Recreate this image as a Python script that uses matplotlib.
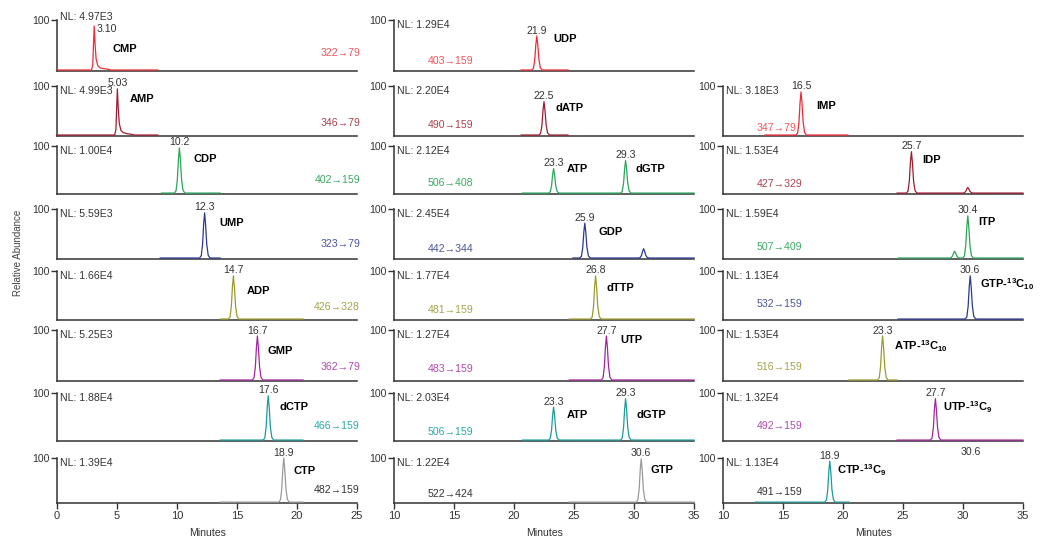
import matplotlib.pyplot as plt

plt.rcParams['font.family'] = ['Liberation Sans', 'DejaVu Sans']
plt.rcParams['mathtext.fontset'] = 'custom'
plt.rcParams['mathtext.rm'] = 'Liberation Sans'
plt.rcParams['mathtext.bf'] = 'Liberation Sans:bold'

# grid position of each chromatogram (column, row)
col = [0] * 8 + [1] * 8 + [2] * 7
row = list(range(8)) + list(range(8)) + list(range(1, 8))

nl = ['4.97E3', '4.99E3', '1.00E4', '5.59E3', '1.66E4', '5.25E3', '1.88E4', '1.39E4',
      '1.29E4', '2.20E4', '2.12E4', '2.45E4', '1.77E4', '1.27E4', '2.03E4', '1.22E4',
      '3.18E3', '1.53E4', '1.59E4', '1.13E4', '1.53E4', '1.32E4', '1.13E4']
transition = ['322→79', '346→79', '402→159', '323→79', '426→328', '362→79', '466→159', '482→159',
              '403→159', '490→159', '506→408', '442→344', '481→159', '483→159', '506→159', '522→424',
              '347→79', '427→329', '507→409', '532→159', '516→159', '492→159', '491→159']
transition_y = [33, 24, 27, 28, 26, 26, 29, 27,
                18, 20, 21, 19, 18, 22, 18, 18,
                14, 20, 22, 31, 26, 29, 22]

red, dred, green, blue = '#ee2a36', '#9e1b32', '#2aa55a', '#2b3990'
olive, purple, teal, gray = '#9c9a2d', '#a2269b', '#1d9a9a', '#9a9a9a'
trace_color = [red, dred, green, blue, olive, purple, teal, gray,
               red, dred, green, blue, olive, purple, teal, gray,
               red, dred, green, blue, olive, purple, teal]
text_color = ['#f0545c', '#a8424f', '#3aaa60', '#4a55a0', '#a6a44a', '#b04aac', '#2aa8a8', '#333333',
              '#f0545c', '#a8424f', '#3aaa60', '#4a55a0', '#a6a44a', '#b04aac', '#2aa8a8', '#333333',
              '#f0545c', '#a8424f', '#3aaa60', '#4a55a0', '#a6a44a', '#b04aac', '#333333']

# acquisition window of each transition (minutes)
win_start = [0, 0, 8.7, 8.6, 13.6, 13.6, 13.6, 13.6,
             20.6, 20.6, 20.7, 24.9, 24.6, 24.6, 20.7, 24.6,
             13.5, 24.5, 24.6, 24.6, 20.5, 24.5, 12.7]
win_end = [8.4, 8.4, 13.6, 13.6, 20.5, 20.5, 20.5, 20.5,
           24.5, 24.5, 35, 35, 35, 35, 35, 35,
           20.4, 35, 35, 35, 24.5, 35, 20.5]

# peaks: retention time (min), relative height (%), label
peak_rt = [[3.10], [5.03], [10.2], [12.3], [14.7], [16.7], [17.6], [18.9],
           [21.9], [22.5], [23.3, 29.3], [25.9, 30.8], [26.8], [27.7], [23.3, 29.3], [30.6],
           [16.5], [25.7, 30.4], [29.3, 30.4], [30.6], [23.3], [27.7], [18.9]]
peak_h = [[88], [94], [96], [92], [90], [88], [94], [100],
          [68], [68], [52, 69], [71, 19], [90], [88], [70, 88], [98],
          [88], [88, 12], [14, 86], [90], [88], [88], [93]]
peak_label = [['3.10'], ['5.03'], ['10.2'], ['12.3'], ['14.7'], ['16.7'], ['17.6'], ['18.9'],
              ['21.9'], ['22.5'], ['23.3', '29.3'], ['25.9', ''], ['26.8'], ['27.7'], ['23.3', '29.3'], ['30.6'],
              ['16.5'], ['25.7', ''], ['', '30.4'], ['30.6'], ['23.3'], ['27.7'], ['18.9']]

# compound names and where they sit (minutes, % of scale)
names = [['CMP'], ['AMP'], ['CDP'], ['UMP'], ['ADP'], ['GMP'], ['dCTP'], ['CTP'],
         ['UDP'], ['dATP'], ['ATP', 'dGTP'], ['GDP'], ['dTTP'], ['UTP'], ['ATP', 'dGTP'], ['GTP'],
         ['IMP'], ['IDP'], ['ITP'], [r'GTP-$^{\mathbf{13}}\mathbf{C}_{\mathbf{10}}$'],
         [r'ATP-$^{\mathbf{13}}\mathbf{C}_{\mathbf{10}}$'], [r'UTP-$^{\mathbf{13}}\mathbf{C}_{\mathbf{9}}$'],
         [r'CTP-$^{\mathbf{13}}\mathbf{C}_{\mathbf{9}}$']]
name_x = [[4.6], [6.1], [11.4], [13.5], [15.8], [17.5], [18.5], [19.7],
          [23.25], [23.5], [24.4, 30.1], [27.0], [27.7], [28.9], [24.4, 30.2], [31.4],
          [17.75], [26.6], [31.3], [31.4], [24.25], [28.3], [19.5]]
name_y = [[43], [74], [73], [72], [58], [59], [71], [71],
          [62], [56], [52, 52], [54], [65], [80], [54, 54], [73],
          [59], [70], [74], [73], [68], [69], [73]]

# peak shapes: offset from apex (min) and fraction of apex height
peak_dt = [-0.42, -0.28, -0.17, -0.08, 0, 0.08, 0.18, 0.3, 0.46]
peak_rel = [0, 0.05, 0.3, 0.75, 1.0, 0.75, 0.3, 0.06, 0]
tail_dt = [-0.22, -0.12, -0.05, 0, 0.07, 0.16, 0.3, 0.5, 0.8, 1.1, 1.4]
tail_rel = [0, 0.12, 0.65, 1.0, 0.6, 0.25, 0.1, 0.05, 0.03, 0.02, 0]

W, H = 1043, 540
lefts = [57, 394, 723]
tops = [20, 86, 146, 209, 271, 330, 393, 458]
bases = [71, 136, 194, 259, 320, 381, 441, 503]
xlims = [(0, 25), (10, 35), (10, 35)]
axis_color = '#333333'
fs = 7.6

fig = plt.figure(figsize=(W / 100, H / 100), dpi=100)

for i in range(len(col)):
    c, r = col[i], row[i]
    ax = fig.add_axes([lefts[c] / W, 1 - bases[r] / H, 300 / W, (bases[r] - tops[r]) / H])
    ax.set_xlim(*xlims[c])
    ax.set_ylim(-2, 100)

    t = [win_start[i]]
    y = [0]
    dt, rel = (tail_dt, tail_rel) if i in (0, 1) else (peak_dt, peak_rel)
    for rt, h in zip(peak_rt[i], peak_h[i]):
        t += [rt + d for d in dt]
        y += [h * f for f in rel]
    t.append(win_end[i])
    y.append(0)
    ax.plot(t, y, color=trace_color[i], lw=0.9, clip_on=False, zorder=3)

    for rt, h, lab in zip(peak_rt[i], peak_h[i], peak_label[i]):
        if not lab:
            continue
        if i == 0:
            ax.text(rt + 0.2, h + 5, lab, ha='left', va='top', fontsize=fs, color=axis_color)
        else:
            ax.text(rt, h + 1, lab, ha='center', va='bottom', fontsize=fs, color=axis_color)

    for nm, nx, ny in zip(names[i], name_x[i], name_y[i]):
        ax.text(nx, ny, nm, ha='left', va='center', fontsize=8, fontweight='bold', color='black')

    nl_y = 115 if i == 0 else 100
    ax.text(0.01, nl_y, 'NL: ' + nl[i], transform=ax.get_yaxis_transform(),
            ha='left', va='top', fontsize=fs, color=axis_color)
    if c == 0:
        ax.text(25.25, transition_y[i], transition[i], ha='right', va='center',
                fontsize=fs, color=text_color[i])
    else:
        ax.text(12.8, transition_y[i], transition[i], ha='left', va='center',
                fontsize=fs, color=text_color[i])

    for s in ('top', 'right'):
        ax.spines[s].set_visible(False)
    for s in ('left', 'bottom'):
        ax.spines[s].set_color(axis_color)
        ax.spines[s].set_linewidth(1.1)
    ax.set_yticks([100])
    ax.set_yticklabels(['100'])
    ax.tick_params(axis='y', length=4, width=1, color=axis_color, labelsize=fs,
                   labelcolor=axis_color, pad=1)
    if r == 7:
        lo, hi = xlims[c]
        ax.set_xticks(range(lo, hi + 1, 5))
        ax.tick_params(axis='x', length=4, width=1, color=axis_color, labelsize=8,
                       labelcolor=axis_color, pad=2)
    else:
        ax.set_xticks([])

# stray retention label printed above the last trace
fig.text(971 / W, 1 - 452 / H, '30.6', ha='center', va='center', fontsize=fs, color=axis_color)

fig.text(18 / W, 1 - 253 / H, 'Relative Abundance', rotation=90, ha='center', va='center',
         fontsize=7, color='#444444')
for x in (208, 545, 874):
    fig.text(x / W, 1 - 533 / H, 'Minutes', ha='center', va='center', fontsize=7.6, color=axis_color)

fig.savefig('out.png', dpi=100)
